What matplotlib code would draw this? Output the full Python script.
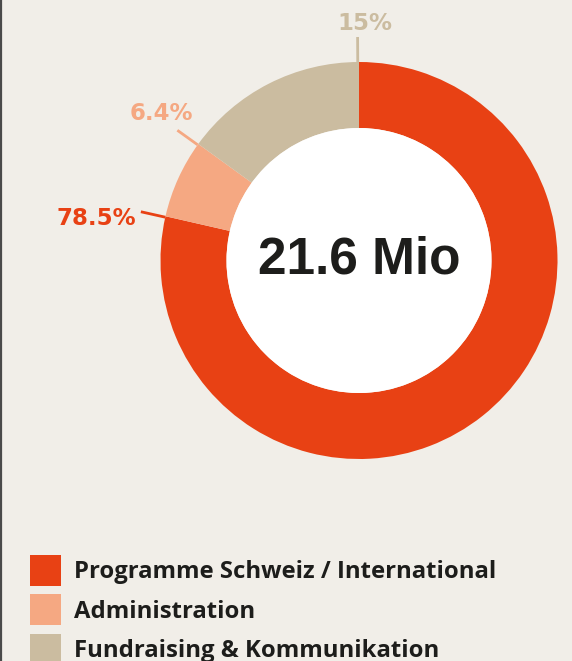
import matplotlib
matplotlib.use("Agg")
import matplotlib.pyplot as plt
import numpy as np
from matplotlib.patches import Patch, Circle
from matplotlib.lines import Line2D

plt.rcParams["font.family"] = ["Liberation Sans", "DejaVu Sans"]

categories = ["Programme Schweiz / International", "Administration", "Fundraising & Kommunikation"]
shares = [78.5, 6.4, 15.0]
share_labels = ["78.5%", "6.4%", "15%"]
total_label = "21.6 Mio"

colors = ["#e84114", "#f5a882", "#cbbca0"]
bg = "#f1eee8"

W, H = 572, 661
fig = plt.figure(figsize=(W / 100, H / 100), dpi=100, facecolor=bg)
ax = fig.add_axes([0, 0, 1, 1])

cx, cy, R, ring = 359, H - 260.5, 198.5, 66
ax.pie(shares, colors=colors, startangle=90, counterclock=False,
       center=(cx, cy), radius=R, frame=True,
       wedgeprops=dict(width=ring, linewidth=0))
ax.add_patch(Circle((cx, cy), R - ring, facecolor="white", edgecolor="none"))
ax.set_xlim(0, W)
ax.set_ylim(0, H)
ax.set_aspect("equal")
ax.axis("off")

ax.text(cx, H - 274, total_label, ha="center", va="baseline", fontsize=37,
        fontweight="bold", color="#1d1d1b")

# leader lines sit on the clockwise end of each wedge
ends = 90 - np.cumsum(shares) / 100 * 360
text_style = [
    dict(ha="right", va="center", dx=-5, dy=-7),
    dict(ha="center", va="bottom", dx=-16, dy=5),
    dict(ha="center", va="bottom", dx=7, dy=2),
]
for ang, lab, col, st in zip(ends, share_labels, colors, text_style):
    t = np.deg2rad(ang)
    x0, y0 = cx + R * np.cos(t), cy + R * np.sin(t)
    x1, y1 = cx + (R + 25) * np.cos(t), cy + (R + 25) * np.sin(t)
    ax.plot([x0, x1], [y0, y1], color=col, lw=2, solid_capstyle="butt")
    ax.text(x1 + st["dx"], y1 + st["dy"], lab, ha=st["ha"], va=st["va"],
            fontsize=16.5, fontweight="bold", color=col, family="DejaVu Sans")

handles = [Patch(facecolor=c, edgecolor="none") for c in colors]
ax.legend(handles, categories, loc="upper left", bbox_to_anchor=(30 / W, 1 - 555 / H),
          frameon=False, prop=dict(family="Open Sans", weight="bold", size=17.2),
          handlelength=1.3, handleheight=1.63, handletextpad=0.54, labelspacing=0.34,
          borderaxespad=0, borderpad=0, labelcolor="#1d1d1b")

fig.add_artist(Line2D([1 / W, 1 / W], [0, 1], transform=fig.transFigure, color="#4a4a4a", lw=1.6))

fig.savefig("out.png", dpi=100, facecolor=bg)
